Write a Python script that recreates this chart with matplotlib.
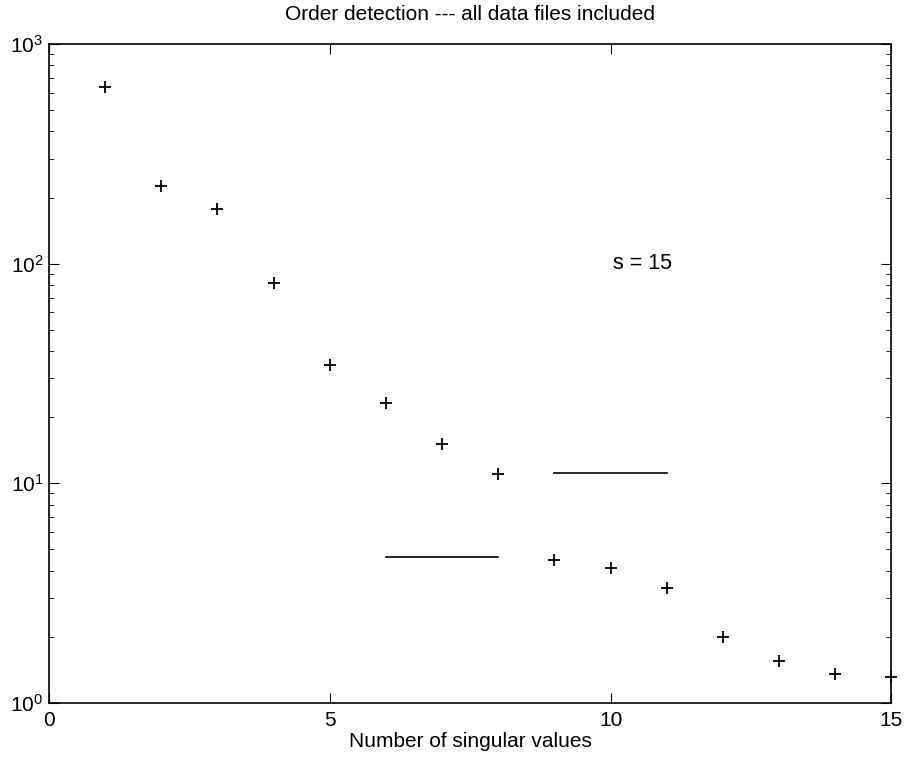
import matplotlib
matplotlib.use("Agg")
import matplotlib.pyplot as plt
from matplotlib.ticker import LogLocator, NullFormatter, FixedLocator

plt.rcParams['font.family'] = ['Liberation Sans', 'DejaVu Sans']

# singular values
n_sv = [1, 2, 3, 4, 5, 6, 7, 8, 9, 10, 11, 12, 13, 14, 15]
sv = [637, 226, 177, 81.6, 34.5, 23.2, 15.1, 11.0, 4.48, 4.12, 3.34, 2.0, 1.55, 1.36, 1.31]

# the two horizontal marker lines
gap_lo_x = [6, 8]
gap_lo_y = [4.6, 4.6]
gap_hi_x = [9, 11]
gap_hi_y = [11.1, 11.1]

fig = plt.figure(figsize=(9.05, 7.59), dpi=100)
ax = fig.add_axes([0.054, 0.074, 0.931, 0.868])

ax.semilogy(n_sv, sv, linestyle='none', marker='+', color='black',
            markersize=9, markeredgewidth=1.3, clip_on=False)
ax.plot(gap_lo_x, gap_lo_y, color='black', linewidth=1.2)
ax.plot(gap_hi_x, gap_hi_y, color='black', linewidth=1.2)

ax.text(10.05, 100, 's = 15', fontsize=15.5, ha='left', va='center')

ax.set_xlim(0, 15)
ax.set_ylim(1, 1000)
ax.xaxis.set_major_locator(FixedLocator([0, 5, 10, 15]))
ax.yaxis.set_major_locator(LogLocator(base=10))
ax.yaxis.set_minor_locator(LogLocator(base=10, subs=range(2, 10)))
ax.yaxis.set_minor_formatter(NullFormatter())

ax.tick_params(which='both', direction='in', top=True, right=True,
               labelsize=15)
ax.tick_params(axis='x', pad=6)
ax.tick_params(axis='y', pad=4)
ax.tick_params(which='major', length=7, width=0.8)
ax.tick_params(which='minor', length=3.5, width=0.6)
for sp in ax.spines.values():
    sp.set_linewidth(1.2)

ax.set_title('Order detection --- all data files included', fontsize=15, pad=17)
ax.set_xlabel('Number of singular values', fontsize=15, labelpad=1)

fig.savefig('out.png', dpi=100)
